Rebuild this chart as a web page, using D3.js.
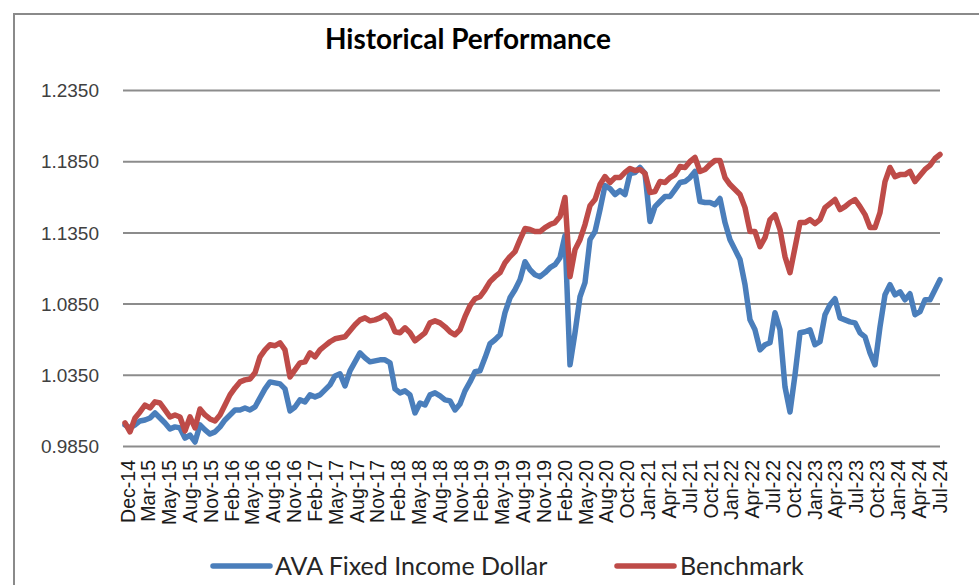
<!DOCTYPE html>
<html>
<head>
<meta charset="utf-8">
<script src="https://cdn.jsdelivr.net/npm/d3@7"></script>
<style>
  html, body { margin: 0; padding: 0; background: #fff; }
  svg { display: block; font-family: Lato, 'Open Sans', sans-serif; }
</style>
</head>
<body>
<div id="chart"></div>
<script>
// category labels shown on the x axis (one every ~quarter)
var dateLabels = ['Dec-14', 'Mar-15', 'May-15', 'Aug-15', 'Nov-15', 'Feb-16', 'May-16', 'Aug-16',
  'Nov-16', 'Feb-17', 'May-17', 'Aug-17', 'Nov-17', 'Feb-18', 'May-18', 'Aug-18', 'Nov-18',
  'Feb-19', 'May-19', 'Aug-19', 'Nov-19', 'Feb-20', 'May-20', 'Aug-20', 'Oct-20', 'Jan-21',
  'Apr-21', 'Jul-21', 'Oct-21', 'Jan-22', 'Apr-22', 'Jul-22', 'Oct-22', 'Jan-23', 'Apr-23',
  'Jul-23', 'Oct-23', 'Jan-24', 'Apr-24', 'Jul-24'];

var yTicks = [0.985, 1.035, 1.085, 1.135, 1.185, 1.235];

var seriesNames = ['AVA Fixed Income Dollar', 'Benchmark'];

// AVA Fixed Income Dollar at even steps through time
var avaValues = [
  0.9998, 0.9977, 0.9998, 1.0026, 1.0033, 1.0047, 1.0082, 1.0047, 1.0012, 0.9970,
  0.9984, 0.9977, 0.9906, 0.9927, 0.9878, 0.9998, 0.9963, 0.9934, 0.9949, 0.9984,
  1.0033, 1.0068, 1.0103, 1.0103, 1.0117, 1.0103, 1.0124, 1.0188, 1.0251, 1.0300,
  1.0293, 1.0286, 1.0251, 1.0096, 1.0124, 1.0174, 1.0160, 1.0209, 1.0195, 1.0209,
  1.0244, 1.0279, 1.0342, 1.0357, 1.0272, 1.0378, 1.0441, 1.0504, 1.0469, 1.0441,
  1.0448, 1.0455, 1.0455, 1.0434, 1.0251, 1.0223, 1.0237, 1.0209, 1.0082, 1.0152,
  1.0138, 1.0209, 1.0223, 1.0202, 1.0174, 1.0167, 1.0103, 1.0145, 1.0237, 1.0300,
  1.0371, 1.0378, 1.0469, 1.0568, 1.0596, 1.0631, 1.0786, 1.0891, 1.0947, 1.1018,
  1.1144, 1.1088, 1.1053, 1.1039, 1.1067, 1.1102, 1.1123, 1.1173, 1.1327, 1.0420,
  1.0645, 1.0898, 1.0997, 1.1299, 1.1356, 1.1510, 1.1679, 1.1658, 1.1616, 1.1644,
  1.1616, 1.1764, 1.1771, 1.1806, 1.1764, 1.1426, 1.1531, 1.1567, 1.1602, 1.1602,
  1.1651, 1.1700, 1.1707, 1.1735, 1.1778, 1.1567, 1.1560, 1.1560, 1.1545, 1.1588,
  1.1419, 1.1299, 1.1229, 1.1159, 1.0983, 1.0736, 1.0666, 1.0525, 1.0561, 1.0575,
  1.0786, 1.0666, 1.0265, 1.0089, 1.0350, 1.0645, 1.0652, 1.0666, 1.0561, 1.0582,
  1.0772, 1.0842, 1.0884, 1.0750, 1.0736, 1.0722, 1.0715, 1.0645, 1.0617, 1.0504,
  1.0420, 1.0687, 1.0912, 1.0983, 1.0912, 1.0933, 1.0877, 1.0919, 1.0772, 1.0793,
  1.0877, 1.0877, 1.0947, 1.1018
];

// Benchmark, same sampling
var benchmarkValues = [
  1.0012, 0.9949, 1.0047, 1.0089, 1.0138, 1.0117, 1.0160, 1.0152, 1.0103, 1.0054,
  1.0068, 1.0054, 0.9956, 1.0054, 0.9977, 1.0110, 1.0068, 1.0040, 1.0026, 1.0068,
  1.0138, 1.0209, 1.0258, 1.0300, 1.0314, 1.0321, 1.0364, 1.0476, 1.0525, 1.0561,
  1.0554, 1.0575, 1.0525, 1.0335, 1.0385, 1.0434, 1.0441, 1.0504, 1.0476, 1.0525,
  1.0554, 1.0582, 1.0603, 1.0610, 1.0617, 1.0659, 1.0701, 1.0736, 1.0750, 1.0729,
  1.0736, 1.0750, 1.0772, 1.0736, 1.0652, 1.0645, 1.0680, 1.0645, 1.0589, 1.0617,
  1.0645, 1.0715, 1.0729, 1.0715, 1.0687, 1.0652, 1.0631, 1.0666, 1.0758, 1.0835,
  1.0884, 1.0898, 1.0947, 1.1004, 1.1039, 1.1067, 1.1137, 1.1180, 1.1215, 1.1299,
  1.1377, 1.1370, 1.1356, 1.1356, 1.1384, 1.1405, 1.1419, 1.1461, 1.1595, 1.1039,
  1.1229, 1.1299, 1.1405, 1.1538, 1.1581, 1.1686, 1.1742, 1.1700, 1.1735, 1.1735,
  1.1771, 1.1799, 1.1785, 1.1792, 1.1764, 1.1630, 1.1637, 1.1707, 1.1700, 1.1735,
  1.1756, 1.1813, 1.1806, 1.1848, 1.1876, 1.1778, 1.1792, 1.1827, 1.1855, 1.1855,
  1.1735, 1.1686, 1.1651, 1.1616, 1.1524, 1.1356, 1.1356, 1.1250, 1.1313, 1.1440,
  1.1475, 1.1370, 1.1180, 1.1067, 1.1243, 1.1419, 1.1419, 1.1440, 1.1412, 1.1440,
  1.1524, 1.1552, 1.1581, 1.1510, 1.1531, 1.1560, 1.1581, 1.1531, 1.1475, 1.1384,
  1.1384, 1.1489, 1.1707, 1.1806, 1.1742, 1.1756, 1.1756, 1.1778, 1.1707, 1.1750,
  1.1792, 1.1820, 1.1869, 1.1897
];

var seriesColors = ['#4a7ebb', '#be4b48'];

(function () {
  'use strict';

  var width = 979, height = 585;
  var plot = { left: 123, right: 940, top: 90, bottom: 446 };

  var svg = d3.select('#chart').append('svg')
    .attr('width', width)
    .attr('height', height);

  // outer chart frame (right and bottom edges run off the picture)
  svg.append('rect')
    .attr('x', 14).attr('y', 14)
    .attr('width', 1000).attr('height', 640)
    .attr('fill', '#fff')
    .attr('stroke', '#8a8a8a')
    .attr('stroke-width', 2);

  svg.append('text')
    .attr('x', 468).attr('y', 49)
    .attr('text-anchor', 'middle')
    .style('font-size', '28px')
    .style('font-weight', 'bold')
    .style('fill', '#000')
    .text('Historical Performance');

  var yScale = d3.scaleLinear().domain([0.985, 1.235]).range([plot.bottom, plot.top]);
  var xScale = d3.scaleLinear().domain([0, avaValues.length - 1]).range([125, 940]);
  var labelScale = d3.scalePoint().domain(dateLabels).range([127, 939]);

  // y axis + gridlines
  var yAxis = d3.axisLeft(yScale)
    .tickValues(yTicks)
    .tickSize(-(plot.right - plot.left))
    .tickPadding(24)
    .tickFormat(d3.format('.4f'));

  var gy = svg.append('g')
    .attr('transform', 'translate(' + plot.left + ',0)')
    .call(yAxis);
  gy.select('.domain').remove();
  gy.selectAll('line').attr('stroke', '#8c8c8c').attr('stroke-width', 2);
  gy.selectAll('text')
    .style('font-size', '19px')
    .style('fill', '#404040')
    .attr('dy', '0.35em');

  // x axis labels, rotated
  var xAxis = d3.axisBottom(labelScale).tickSize(0);
  var gx = svg.append('g')
    .attr('transform', 'translate(0,' + plot.bottom + ')')
    .call(xAxis);
  gx.select('.domain').remove();
  gx.selectAll('text')
    .attr('transform', 'rotate(-90)')
    .attr('x', -14)
    .attr('y', 0)
    .attr('dy', '0.36em')
    .style('text-anchor', 'end')
    .style('font-size', '19.5px')
    .style('fill', '#1a1a1a');

  // lines
  var line = d3.line()
    .x(function(d, i) { return xScale(i); })
    .y(function(d) { return yScale(d); });

  [avaValues, benchmarkValues].forEach(function(vals, k) {
    svg.append('path')
      .datum(vals)
      .attr('fill', 'none')
      .attr('stroke', seriesColors[k])
      .attr('stroke-width', 5.5)
      .attr('stroke-linejoin', 'round')
      .attr('stroke-linecap', 'round')
      .attr('d', line);
  });

  // legend
  var legendPos = [{ x: 213, tx: 275 }, { x: 617, tx: 680 }];
  seriesNames.forEach(function(name, k) {
    svg.append('line')
      .attr('x1', legendPos[k].x).attr('x2', legendPos[k].x + 57)
      .attr('y1', 566).attr('y2', 566)
      .attr('stroke', seriesColors[k])
      .attr('stroke-width', 5.5)
      .attr('stroke-linecap', 'round');
    svg.append('text')
      .attr('x', legendPos[k].tx).attr('y', 566)
      .attr('dy', '0.35em')
      .style('font-size', '25px')
      .style('fill', '#262626')
      .text(name);
  });
}());
</script>
</body>
</html>
